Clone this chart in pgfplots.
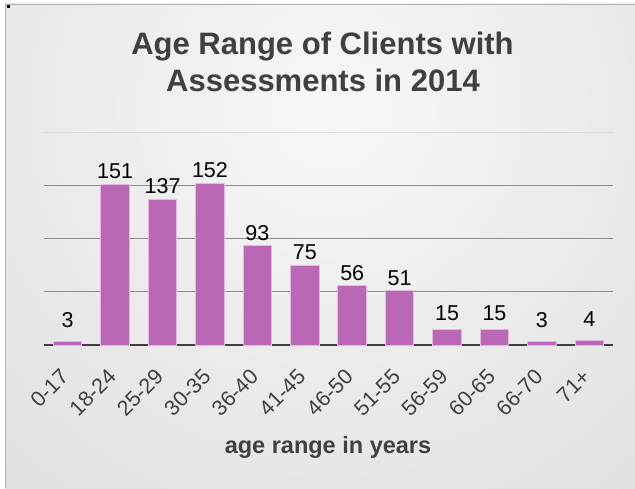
\documentclass[border=0pt]{standalone}
\usepackage{pgfplots}
\pgfplotsset{compat=1.18}
\usepackage{pgfplotstable}
\usepackage{fontspec}
\setmainfont{Liberation Sans}
\definecolor{barfill}{RGB}{186,104,182}
\definecolor{baredge}{RGB}{228,184,225}
\definecolor{txt}{RGB}{64,64,64}
\pgfplotstableread{
x y sh
0 3 9
1 151 0
2 137 0
3 152 0
4 93 0
5 75 0
6 56 0
7 51 0
8 15 3
9 15 3
10 3 9
11 4 9
}\agedata
\begin{document}
\begin{tikzpicture}[x=1pt,y=1pt]
\useasboundingbox (0,0) rectangle (635,488);
\fill[black!21] (5,0) rectangle (635,484);
\begin{scope}
\clip (5,0) rectangle (635,484);
\shade[inner color=black!3, outer color=black!21] (330,378) circle (1000);
\end{scope}
\draw[black!30, line width=1pt] (5.5,0) -- (5.5,483.5) -- (635,483.5);
\fill[black] (7,480) rectangle (10,483);
\begin{axis}[
  at={(44pt,143pt)}, anchor=south west,
  scale only axis, width=569pt, height=213pt,
  xmin=-0.5, xmax=11.5, ymin=0, ymax=200,
  axis x line=bottom, axis y line=left,
  axis line style={-},
  y axis line style={draw=none},
  x axis line style={draw=txt, line width=2.5pt},
  xtick={0,...,11},
  xticklabels={0-17,18-24,25-29,30-35,36-40,41-45,46-50,51-55,56-59,60-65,66-70,71+},
  xticklabel style={xshift=-3pt, yshift=-28pt, rotate=45, anchor=east, inner sep=0pt,
    font=\fontsize{21.5}{25}\selectfont, text=txt},
  ytick={50,100,150}, yticklabels={},
  extra y ticks={200}, extra y tick labels={},
  extra y tick style={grid style={black!14, line width=1pt}},
  ymajorgrids, grid style={black!45, line width=1pt},
  major tick length=0pt,
  /pgf/number format/assume math mode=true,
  clip=false,
]
\addplot[ybar, bar width=28.5pt, fill=barfill, draw=baredge, line width=1pt,
  nodes near coords,
  visualization depends on={\thisrow{sh} \as \lblsh},
  every node near coord/.append style={font=\fontsize{21.5}{25}\selectfont, text=black,
    inner sep=0pt, anchor=south, yshift=4.5pt+\lblsh pt},
] table[x=x, y=y] {\agedata};
\end{axis}
\node[font=\fontsize{31}{37}\selectfont\bfseries, text=txt, anchor=base] at (322.5,433) {Age Range of Clients with};
\node[font=\fontsize{31}{37}\selectfont\bfseries, text=txt, anchor=base] at (323,396) {Assessments in 2014};
\node[font=\fontsize{23.5}{28}\selectfont\bfseries, text=txt, anchor=base] at (328,35) {age range in years};
\end{tikzpicture}
\end{document}
